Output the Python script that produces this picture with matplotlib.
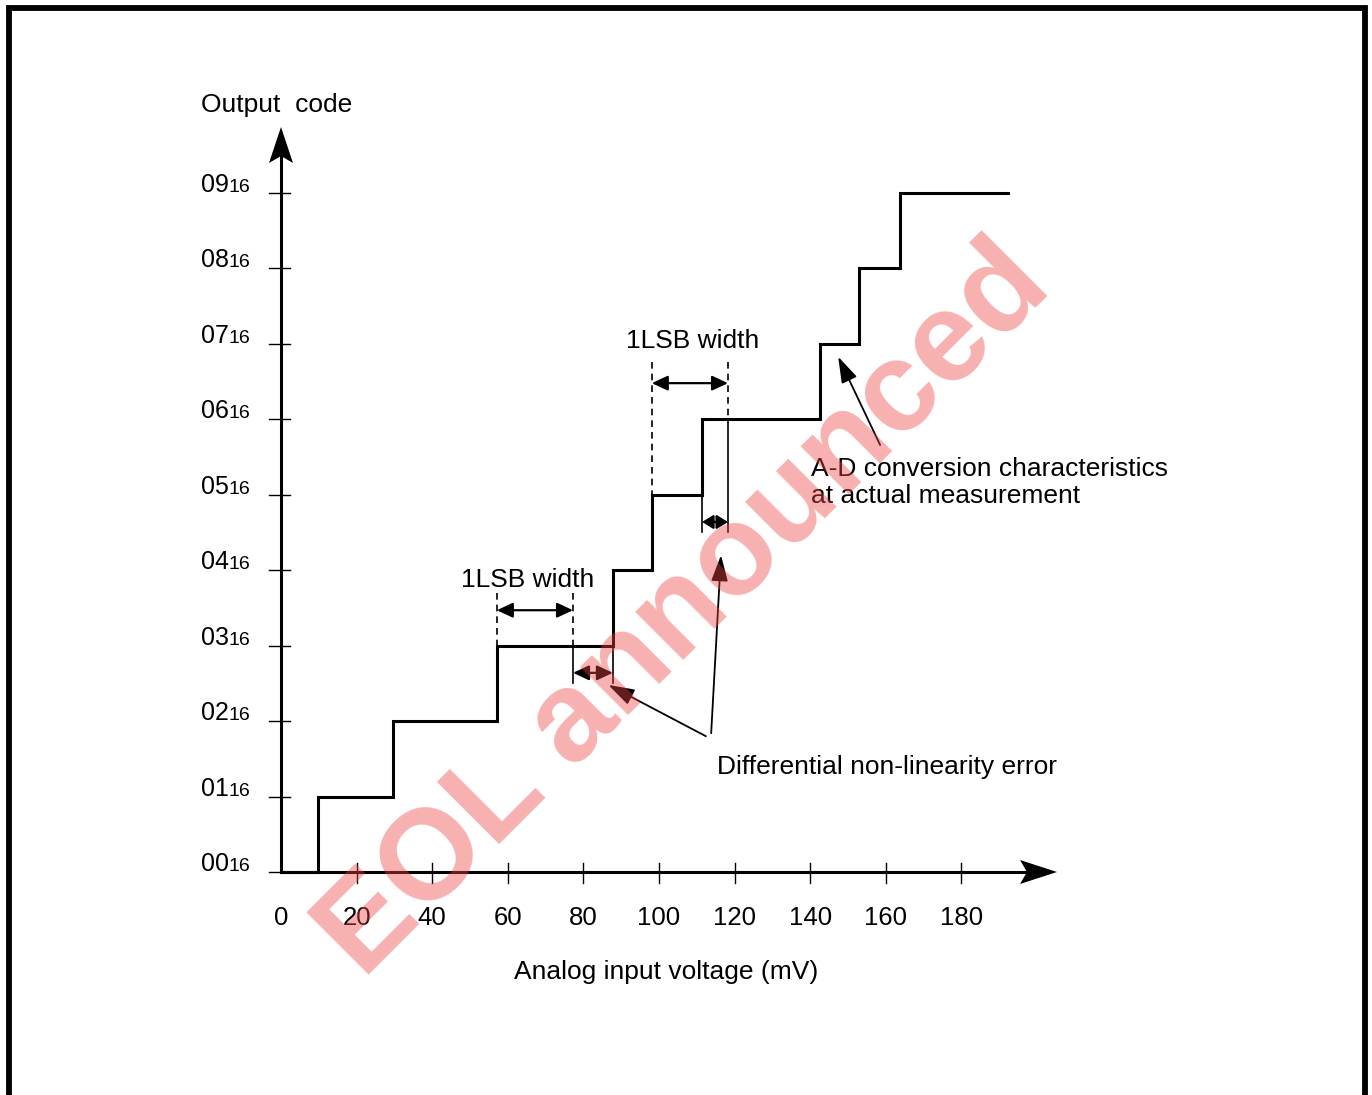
import matplotlib
matplotlib.use('Agg')
import matplotlib.pyplot as plt
from matplotlib.lines import Line2D
from matplotlib.patches import Polygon

plt.rcParams['font.family'] = ['Liberation Sans', 'DejaVu Sans']

# step edges of the measured characteristic (mV) and output codes
edges = [0, 9.8, 29.6, 57.1, 87.8, 98.1, 111.4, 142.6, 152.9, 163.8, 192.3]
codes = [0, 1, 2, 3, 4, 5, 6, 7, 8, 9, 9]
xticks = [20, 40, 60, 80, 100, 120, 140, 160, 180]
xlabels = ['0', '20', '40', '60', '80', '100', '120', '140', '160', '180']
ycodes = ['00', '01', '02', '03', '04', '05', '06', '07', '08', '09']

# pixel scale of the original drawing
PX = 3.78    # px per mV
PY = 75.44   # px per code
X0, Y0 = 281, 872
W, H = 1372, 1095

fig = plt.figure(figsize=(W / 100, H / 100), dpi=100)
ax = fig.add_axes([0, 0, 1, 1])
ax.set_xlim(-X0 / PX, (W - X0) / PX)
ax.set_ylim(-(H - Y0) / PY, Y0 / PY)
ax.axis('off')

def dx(p):
    return p / PX

def dy(p):
    return p / PY

# frame (bottom edge is cut off)
fig.add_artist(Line2D([8.5 / W, 8.5 / W, 1365 / W, 1365 / W],
                      [-0.05, 1 - 8 / H, 1 - 8 / H, -0.05],
                      transform=fig.transFigure, color='black', lw=4.2,
                      solid_joinstyle='miter'))

# axes lines with arrowheads
xend = dx(1057 - X0)
yend = dy(Y0 - 127)
ax.plot([0, xend - dx(20)], [0, 0], color='black', lw=2.2)
ax.plot([0, 0], [0, yend - dy(20)], color='black', lw=2.2)
ax.add_patch(Polygon([(xend, 0), (xend - dx(37), dy(12)), (xend - dx(30), 0),
                      (xend - dx(37), -dy(12))], closed=True, color='black', lw=0))
ax.add_patch(Polygon([(0, yend), (-dx(12), yend - dy(36)), (0, yend - dy(29)),
                      (dx(12), yend - dy(36))], closed=True, color='black', lw=0))

# ticks
for t in xticks:
    ax.plot([t, t], [dy(9), -dy(11)], color='black', lw=1.0)
for i in range(10):
    ax.plot([-dx(12), dx(9)], [i, i], color='black', lw=1.0)

# tick labels
for t, lab in zip([0] + xticks, xlabels):
    ax.text(t, -dy(925 - Y0), lab, fontsize=18.5, ha='center', va='baseline')
for i, lab in enumerate(ycodes):
    ax.text(-dx(X0 - 229), i + dy(1), lab, fontsize=18, ha='right', va='baseline')
    ax.text(-dx(X0 - 229), i + dy(1), '16', fontsize=14, ha='left', va='baseline')

# measured characteristic
ax.plot(edges, codes, drawstyle='steps-post', color='black', lw=2.2,
        solid_joinstyle='miter', zorder=3)

# 1LSB guide lines
lsb_lo = [57.1, 77.25]
lsb_hi = [98.1, 118.25]
top_lo, top_hi = dy(Y0 - 593), dy(Y0 - 362)
ax.plot([lsb_lo[0]] * 2, [top_lo, 3], color='black', lw=1.2, ls=(0, (4, 3)))
ax.plot([lsb_lo[1]] * 2, [top_lo, 3], color='black', lw=1.2, ls=(0, (4, 3)))
ax.plot([lsb_lo[1]] * 2, [3, 2.5], color='black', lw=1.2)
ax.plot([87.8] * 2, [3, 2.5], color='black', lw=1.2)
ax.plot([lsb_hi[0]] * 2, [top_hi, 5], color='black', lw=1.2, ls=(0, (4, 3)))
ax.plot([lsb_hi[1]] * 2, [top_hi, 6], color='black', lw=1.2, ls=(0, (4, 3)))
ax.plot([lsb_hi[1]] * 2, [6, 4.51], color='black', lw=1.2)
ax.plot([111.4] * 2, [5, 4.51], color='black', lw=1.2)

dbl = dict(arrowstyle='<|-|>,head_length=0.6,head_width=0.28', color='black',
           lw=1.6, shrinkA=0, shrinkB=0, mutation_scale=16)
small = dict(arrowstyle='<|-|>,head_length=0.42,head_width=0.26', color='black',
             lw=1.6, shrinkA=0, shrinkB=0, mutation_scale=16)
ax.annotate('', xy=(lsb_lo[0], 3.47), xytext=(lsb_lo[1], 3.47), arrowprops=dbl)
ax.annotate('', xy=(lsb_hi[0], 6.48), xytext=(lsb_hi[1], 6.48), arrowprops=dbl)
ax.annotate('', xy=(lsb_lo[1], 2.64), xytext=(87.8, 2.64), arrowprops=dbl)
ax.annotate('', xy=(111.4, 4.64), xytext=(lsb_hi[1], 4.64), arrowprops=small)

ptr = dict(arrowstyle='-|>,head_length=1.0,head_width=0.32', color='black',
           lw=1.3, shrinkA=0, shrinkB=0, mutation_scale=16)
ax.annotate('', xy=(147.4, 6.83), xytext=(158.5, 5.66), arrowprops=ptr)
ax.annotate('', xy=(86.6, 2.48), xytext=(112.4, 1.80), arrowprops=ptr)
ax.annotate('', xy=(116.4, 4.20), xytext=(113.8, 1.84), arrowprops=ptr)

# texts
fs = 19
ax.text(-dx(X0 - 201), dy(Y0 - 112), 'Output  code', fontsize=fs, ha='left', va='baseline')
ax.text(65.3, dy(Y0 - 587), '1LSB width', fontsize=fs, ha='center', va='baseline')
ax.text(109.0, dy(Y0 - 348), '1LSB width', fontsize=fs, ha='center', va='baseline')
ax.text(140.2, dy(Y0 - 476), 'A-D conversion characteristics', fontsize=fs,
        ha='left', va='baseline')
ax.text(140.2, dy(Y0 - 503), 'at actual measurement', fontsize=fs,
        ha='left', va='baseline')
ax.text(115.3, dy(Y0 - 774), 'Differential non-linearity error', fontsize=fs,
        ha='left', va='baseline')
ax.text(101.9, -dy(979 - Y0), 'Analog input voltage (mV)', fontsize=fs,
        ha='center', va='baseline')

# watermark
fig.text(685 / W, 1 - 612 / H, 'EOL announced', fontsize=92, fontweight='bold',
         color='#ee4444', alpha=0.42, rotation=45, ha='center', va='center',
         rotation_mode='anchor', zorder=10)

fig.savefig('out.png', dpi=100)
